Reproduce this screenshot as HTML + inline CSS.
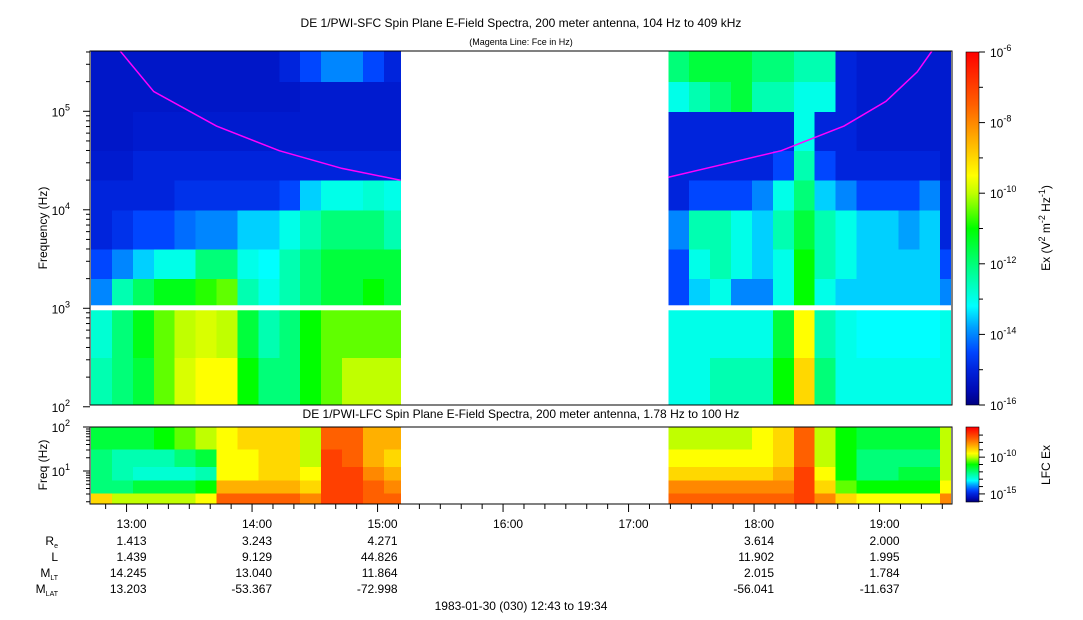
<!DOCTYPE html>
<html><head><meta charset="utf-8">
<style>
body{margin:0;background:#fff;width:1083px;height:620px;overflow:hidden;font-family:"Liberation Sans",sans-serif;}
svg{display:block}
text{font-family:"Liberation Sans",sans-serif;fill:#000}
</style></head>
<body>
<svg id="chart" width="1083" height="620" viewBox="0 0 1083 620" xmlns="http://www.w3.org/2000/svg">
<text x="521" y="27" font-size="12" text-anchor="middle">DE 1/PWI-SFC  Spin Plane E-Field Spectra, 200 meter antenna, 104 Hz to 409 kHz</text>
<text x="521" y="45" font-size="9" text-anchor="middle">(Magenta Line: Fce in Hz)</text>
<text x="521" y="418" font-size="12" text-anchor="middle">DE 1/PWI-LFC  Spin Plane E-Field Spectra, 200 meter antenna, 1.78 Hz to 100 Hz</text>
<g id="cells"></g>
<g id="axes"></g>
</svg>
<script>
// ---- data ----
const leftStarts = [0,10,20,30,40,50,60,70,80,90,100,110,120,130,140]; // minutes from 12:43
const leftEnd = 148;
const rightStarts = [276,286,296,306,316,326,336,346,356,366,376,386,396,406];
const rightEnd = 411;
const sfcBands = [2.017,2.5,3.0,3.3,3.6,4.0,4.3,4.6,5.0,5.3,5.612]; // log10 Hz
const sfcLeft = [
[-12.5,-12.8,-14,-14.5,-15,-15,-15.2,-15.3,-15.3,-15.3],
[-12,-12,-12.5,-14,-14.8,-15,-15.2,-15.3,-15.3,-15.3],
[-11.5,-11.2,-11.8,-13.5,-14.5,-15,-15,-15.2,-15.3,-15.3],
[-10.5,-10.5,-11.2,-13,-14.5,-15,-15,-15.2,-15.3,-15.3],
[-9.8,-10,-11.2,-13,-14.2,-14.8,-15,-15.2,-15.3,-15.3],
[-9.5,-9.8,-10.8,-12,-14,-14.8,-15,-15.2,-15.3,-15.3],
[-9.5,-10,-10.5,-12,-14,-14.8,-15,-15.2,-15.3,-15.3],
[-11,-11.5,-12.5,-13,-13.5,-14.8,-15,-15.2,-15.3,-15.3],
[-12,-12.5,-13,-13.2,-13.5,-14.8,-15,-15.2,-15.3,-15.3],
[-12,-12,-12.5,-12.5,-13,-14.5,-15,-15.2,-15.3,-15],
[-11,-11,-12,-12,-12.5,-13.5,-15,-15.2,-15.2,-14.5],
[-10.5,-10.5,-11.5,-11.5,-12,-13,-15,-15.2,-15.2,-14],
[-10,-10.5,-11.5,-11.5,-12,-13,-15,-15.2,-15.2,-14],
[-10,-10.5,-11,-11.5,-12,-12.8,-15,-15.2,-15.2,-14.5],
[-10,-10.5,-11.5,-11.5,-12.5,-13,-15,-15.2,-15.2,-15]];
const sfcRight = [
[-13,-13,-14.5,-14.5,-14,-15,-15,-15,-13,-12],
[-13,-13,-13.5,-13,-12.5,-14.5,-15,-15,-12.5,-11.5],
[-12.5,-13,-13,-12.5,-12.5,-14.5,-15,-15,-12,-11.5],
[-12.5,-13,-14,-13,-13,-14.5,-15,-15,-11.5,-11.5],
[-12.5,-13,-14,-13.5,-13.5,-14,-15,-15,-12.5,-12],
[-11,-11.5,-13,-13,-12.5,-13,-14.5,-15,-12.5,-12],
[-9,-9.5,-11,-11,-11.5,-12,-12.5,-13,-13,-12.5],
[-12,-12.5,-13,-12.5,-12.5,-13.5,-14.5,-15,-13,-12.5],
[-13,-13,-13.5,-13,-13,-14,-15,-15,-15,-15],
[-13,-13.2,-13.5,-13.5,-13.5,-14.5,-15,-15.2,-15.2,-15.2],
[-13,-13.2,-13.5,-13.5,-13.5,-14.5,-15,-15.2,-15.2,-15.2],
[-13,-13.2,-13.5,-13.5,-13.8,-14.5,-15,-15.2,-15.2,-15.2],
[-13,-13.2,-13.5,-13.5,-13.5,-14,-15,-15.2,-15.2,-15.2],
[-13,-13,-14,-14.5,-15,-15,-15.2,-15.2,-15.2,-15.2]];
const lfcBands = [0.25,0.5,0.8,1.1,1.5,2.0];
const lfcLeft = [
[-9,-12,-12,-12,-11.5],[-10,-12,-12.5,-12.5,-11.5],[-10,-11.5,-12.8,-12.5,-11.5],
[-10,-11.5,-12.8,-12.5,-11],[-10,-11.5,-12.8,-12,-10.5],[-9.5,-11,-12.5,-11.5,-10],
[-7.5,-8.5,-9.5,-9.5,-9.5],[-7.5,-8.5,-9.5,-9.5,-9],[-7.5,-8.5,-9,-9,-9],[-7.5,-8.5,-9,-9,-9],
[-8,-9,-9.5,-10,-10],[-7,-7,-7,-7,-7.5],[-7,-7,-7,-7.5,-7.5],[-7.5,-7.5,-8,-8.5,-8.5],[-7.5,-8,-8.5,-9,-8.5]];
const lfcRight = [
[-7.5,-8,-9,-9.5,-10],[-7.5,-8,-9,-9.5,-10],[-7.5,-8,-9,-9.5,-10],[-7.5,-8,-9,-9.5,-10],
[-7.5,-8,-9,-9.5,-9.5],[-7.5,-8,-8.5,-9,-9],[-7,-7,-7,-7.5,-7.5],[-8,-9,-9.5,-10,-10],
[-9,-10.5,-11,-11,-11],[-9.5,-11,-12,-12,-11.5],[-9.5,-11,-12,-12,-11.5],[-9.5,-11,-11.5,-12,-11.5],
[-9.5,-11,-11.5,-12,-11.5],[-8,-9.5,-10,-10,-10]];
const fceLeftT = [14,30,60,90,120,148];
const fceLeftF = [5.61,5.2,4.85,4.6,4.42,4.3];
const fceRightT = [276,300,330,360,380,395,402];
const fceRightF = [4.33,4.45,4.6,4.85,5.1,5.4,5.61];
const hourLabels = ["13:00","14:00","15:00","16:00","17:00","18:00","19:00"];
const hourMinutes = [17,77,137,197,257,317,377];
const reVals = ["1.413","3.243","4.271","","","3.614","2.000"];
const lVals = ["1.439","9.129","44.826","","","11.902","1.995"];
const mltVals = ["14.245","13.040","11.864","","","2.015","1.784"];
const mlatVals = ["13.203","-53.367","-72.998","","","-56.041","-11.637"];

// ---- scales ----
const X0=91, PXMIN=125.5/60;
const xs = m => X0 + m*PXMIN;
const ySfc = lf => 51 + (5.612-lf)*98.5;
const yLfc = lf => 427 + (2.0-lf)*(77/1.75);
const stops=[[-16,[0,0,128]],[-15.6,[0,10,180]],[-15,[0,36,220]],[-14.5,[0,70,255]],[-13.8,[0,160,255]],[-13.2,[0,255,255]],[-12.2,[0,255,144]],[-11,[0,255,0]],[-10,[192,255,0]],[-9.5,[255,255,0]],[-8.5,[255,176,0]],[-7.5,[255,96,0]],[-6,[255,0,0]]];
function col(v){
  if(v<=stops[0][0])return 'rgb(0,0,128)';
  for(let i=1;i<stops.length;i++){ if(v<=stops[i][0]){const a=stops[i-1],b=stops[i],t=(v-a[0])/(b[0]-a[0]);
    return 'rgb('+a[1].map((c,j)=>Math.round(c+(b[1][j]-c)*t)).join(',')+')';}}
  return 'rgb(255,0,0)';
}
const NS='http://www.w3.org/2000/svg';
const cells=document.getElementById('cells'), axes=document.getElementById('axes');
function mk(tag,attrs,parent){const e=document.createElementNS(NS,tag);for(const k in attrs)e.setAttribute(k,attrs[k]);(parent||axes).appendChild(e);return e;}

function drawHeat(starts,end,bands,vals,yf,name){
  starts.forEach((s,i)=>{
    const e=i+1<starts.length?starts[i+1]:end;
    vals[i].forEach((v,j)=>{
      const y1=yf(bands[j+1]), y2=yf(bands[j]);
      const r=mk('rect',{x:xs(s),y:y1,width:xs(e)-xs(s)+0.5,height:y2-y1+0.5,fill:col(v),'shape-rendering':'crispEdges'},cells);
      
      
    });
  });
}
drawHeat(leftStarts,leftEnd,sfcBands,sfcLeft,ySfc,'sfc');
drawHeat(rightStarts,rightEnd,sfcBands,sfcRight,ySfc,'sfc');
drawHeat(leftStarts,leftEnd,lfcBands,lfcLeft,yLfc,'lfc');
drawHeat(rightStarts,rightEnd,lfcBands,lfcRight,yLfc,'lfc');
const gap=mk('rect',{x:90,y:ySfc(3.0)-3,width:862,height:5,fill:'#fff'},cells);



function fceLine(T,F){
  const p=T.map((t,i)=>xs(t)+','+Math.max(51,ySfc(F[i]))).join(' ');
  const l=mk('polyline',{points:p,fill:'none',stroke:'#ff00ff','stroke-width':1.5});
  
  
}
fceLine(fceLeftT,fceLeftF); fceLine(fceRightT,fceRightF);

const f1=mk('rect',{x:90,y:51,width:862,height:354,fill:'none',stroke:'#000'});


const f2=mk('rect',{x:90,y:427,width:862,height:77,fill:'none',stroke:'#000'});



for(let d=2;d<=5;d++){
  const y=ySfc(d);
  mk('line',{x1:83,x2:90,y1:y,y2:y,stroke:'#000'});
  const t=mk('text',{x:70,y:y+5,'font-size':12,'text-anchor':'end'});
  
  
  t.innerHTML='10<tspan dy="-6" font-size="9">'+d+'</tspan>';
  for(let m=2;m<10;m++){const ym=ySfc(d+Math.log10(m)); if(ym>=51) mk('line',{x1:86,x2:90,y1:ym,y2:ym,stroke:'#000'});}
}
const yt=mk('text',{x:47,y:228,'font-size':12,'text-anchor':'middle',transform:'rotate(-90 47 228)'});
yt.textContent='Frequency (Hz)';


[1,2].forEach(d=>{const y=yLfc(d);mk('line',{x1:83,x2:90,y1:y,y2:y,stroke:'#000'});
  const t=mk('text',{x:70,y:y+5,'font-size':12,'text-anchor':'end'});
  
  
  t.innerHTML='10<tspan dy="-6" font-size="9">'+d+'</tspan>';});
[0,1].forEach(d=>{for(let m=2;m<10;m++){const lf=d+Math.log10(m);if(lf>0.25)mk('line',{x1:86,x2:90,y1:yLfc(lf),y2:yLfc(lf),stroke:'#000'});}});
const yt2=mk('text',{x:47,y:465,'font-size':12,'text-anchor':'middle',transform:'rotate(-90 47 465)'});
yt2.textContent='Freq (Hz)';



for(let m=7;m<=411;m+=10){ const major=(m-17)%60===0;
  mk('line',{x1:xs(m),x2:xs(m),y1:504,y2:major?512:509,stroke:'#000'});}
hourLabels.forEach((h,i)=>{
  const x=xs(hourMinutes[i])+20;
  const rows=[[h,528],[reVals[i],545],[lVals[i],561],[mltVals[i],577],[mlatVals[i],593]];
  rows.forEach((r,j)=>{ if(!r[0])return; const t=mk('text',{x:x,y:r[1],'font-size':12,'text-anchor':'end'});
    t.textContent=r[0];
    
    });
});
[['R','e',545],['L','',561],['M','LT',577],['M','LAT',593]].forEach(r=>{
  const t=mk('text',{x:58,y:r[2],'font-size':12,'text-anchor':'end'});
  t.innerHTML=r[0]+(r[1]?'<tspan dy="3" font-size="7">'+r[1]+'</tspan>':'');
  
  
});
const dt=mk('text',{x:521,y:610,'font-size':12,'text-anchor':'middle'});
dt.textContent='1983-01-30 (030) 12:43 to 19:34';



function colorbar(y0,h,vmin,vmax,ticks,name){
  for(let i=0;i<h;i++){const v=vmax-(i+0.5)/h*(vmax-vmin);mk('rect',{x:966,y:y0+i,width:13,height:1.2,fill:col(v),'shape-rendering':'crispEdges'});}
  const fr=mk('rect',{x:966,y:y0,width:13,height:h,fill:'none',stroke:'#000','stroke-width':0.6});
  
  
  ticks.forEach(tv=>{const y=y0+(vmax-tv[0])/(vmax-vmin)*h;
    mk('line',{x1:979,x2:tv[1]?985:983,y1:y,y2:y,stroke:'#000'});
    if(tv[1]){const t=mk('text',{x:990,y:y+5,'font-size':12});
      t.innerHTML='10<tspan dy="-6" font-size="9">'+tv[0]+'</tspan>';
      
      }});
}
colorbar(52,353,-16,-6,[[-6,1],[-7,0],[-8,1],[-9,0],[-10,1],[-11,0],[-12,1],[-13,0],[-14,1],[-15,0],[-16,1]],'sfc-colorbar');
colorbar(427,75,-16.1,-5.9,[[-7,0],[-8,0],[-9,0],[-10,1],[-11,0],[-12,0],[-13,0],[-14,0],[-15,1],[-16,0]],'lfc-colorbar');
const ct=mk('text',{x:1050,y:228,'font-size':12,'text-anchor':'middle',transform:'rotate(-90 1050 228)'});
ct.innerHTML='Ex (V<tspan dy="-5" font-size="9">2</tspan><tspan dy="5"> m</tspan><tspan dy="-5" font-size="9">-2</tspan><tspan dy="5"> Hz</tspan><tspan dy="-5" font-size="9">-1</tspan><tspan dy="5">)</tspan>';


const ct2=mk('text',{x:1050,y:465,'font-size':12,'text-anchor':'middle',transform:'rotate(-90 1050 465)'});
ct2.textContent='LFC Ex';


</script>
</body></html>
